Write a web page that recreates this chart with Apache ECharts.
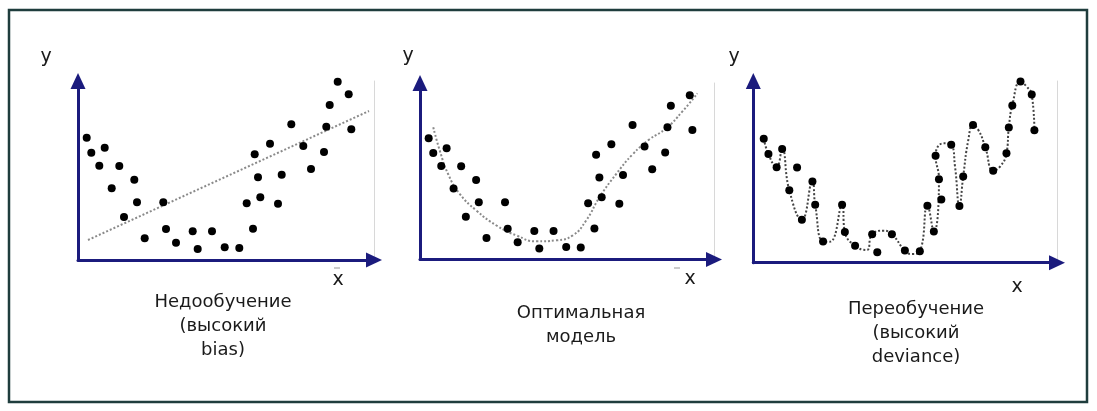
<!DOCTYPE html>
<html>
<head>
<meta charset="utf-8">
<script src="https://cdn.jsdelivr.net/npm/echarts@6/dist/echarts.min.js"></script>
<style>
html,body{margin:0;padding:0;background:#fff;}
#c{width:1097px;height:411px;}
</style>
</head>
<body>
<div id="c"></div>
<script>
// Scatter observations (shared by all three panels)
const pointsX = [8.7, 13.3, 26.7, 21.3, 41.3, 33.7, 56.3, 59, 46, 66.7, 85.3, 88, 98, 114.7, 119.7, 134, 146.7, 161.3, 175, 168.7, 176.7, 180, 182.3, 192, 203.7, 200, 213.3, 225.3, 233, 246, 248.3, 251.7, 259.7, 270.7, 273.3];
const pointsY = [122.3, 107.3, 112.3, 94.3, 94, 71.7, 80.3, 57.7, 43, 21.7, 57.7, 31, 17.3, 28.7, 11, 28.7, 12.7, 12, 31.3, 56.7, 105.7, 82.7, 62.7, 116.3, 85.3, 56.3, 135.7, 114, 91, 108, 133.3, 155, 178.3, 165.7, 130.7];

// Underfit: linear model
const underX = [10, 291];
const underY = [20, 149];

// Optimal: smooth model
const optX = [13.3, 20, 28.3, 40, 56.7, 76.7, 96.7, 116.7, 136.7, 153.3, 166.7, 180, 196.7, 213.3, 230, 246.7, 263.3, 278.3];
const optY = [133.3, 109.3, 86, 66, 49.3, 34.3, 24.3, 18.3, 19.3, 24.3, 39.3, 62.6, 86, 106, 121, 132, 149.3, 167.6];

// Overfit: wiggly model through the points
const overX = [8.7, 13.3, 21.3, 26.7, 33.7, 46, 56.3, 59, 66.7, 73.5, 85.3, 88, 98, 109.3, 114.7, 125.6, 134, 146.7, 153.3, 161.3, 168.7, 175, 180, 176.7, 184.3, 192, 195.7, 200, 203.7, 208.7, 213.3, 218.5, 225.3, 233, 239.7, 246, 248.3, 251.7, 259.7, 265.7, 270.7, 273.3];
const overY = [122.3, 107.3, 94.3, 112.3, 71.7, 43, 80.3, 57.7, 21.7, 21.4, 57.7, 31, 17.3, 13.2, 28.7, 32.2, 28.7, 12.7, 9.3, 12, 56.7, 31.3, 82.7, 105.7, 117.8, 116.3, 95, 56.3, 85.3, 121.1, 135.7, 130.9, 114, 91, 95, 108, 133.3, 155, 178.3, 173.4, 165.7, 130.7];

const panelTitles = ['Недообучение\n(высокий\nbias)', 'Оптимальная\nмодель', 'Переобучение\n(высокий\ndeviance)'];
const axisLabelY = 'y';
const axisLabelX = 'x';

const zip = (a, b) => a.map((v, i) => [v, b[i]]);
const pts = zip(pointsX, pointsY);

const NAVY = '#1b1b7d';
const FONT = 'DejaVu Sans';

const grids = [
  {left: 78, top: 81, width: 296, height: 179},
  {left: 420, top: 83, width: 294, height: 176.5},
  {left: 753.3, top: 81, width: 303.7, height: 181.7}
];
const xr = [[0, 296], [0, 295], [-1.5, 295.4]];
const yr = [[0, 179], [0, 178], [0.8, 178.9]];

const xAxis = grids.map((g, i) => ({
  type: 'value', gridIndex: i, min: xr[i][0], max: xr[i][1],
  axisLine: {show: true, onZero: false, symbol: ['none', 'triangle'], symbolSize: [15, 16], lineStyle: {color: NAVY, width: 3}},
  axisTick: {show: false}, axisLabel: {show: false}, splitLine: {show: false}
}));
const yAxis = [];
grids.forEach((g, i) => {
  yAxis.push({
    type: 'value', gridIndex: i, min: yr[i][0], max: yr[i][1],
    axisLine: {show: true, onZero: false, symbol: ['none', 'triangle'], symbolSize: [15, 16], lineStyle: {color: NAVY, width: 3}},
    axisTick: {show: false}, axisLabel: {show: false}, splitLine: {show: false}
  });
  yAxis.push({
    type: 'value', gridIndex: i, position: 'right', min: yr[i][0], max: yr[i][1],
    axisLine: {show: true, onZero: false, lineStyle: {color: '#d8d8d8', width: 1}},
    axisTick: {show: false}, axisLabel: {show: false}, splitLine: {show: false}
  });
});

const fits = [
  {x: underX, y: underY, smooth: false, color: '#8a8a8a'},
  {x: optX, y: optY, smooth: 0.5, color: '#8a8a8a'},
  {x: overX, y: overY, smooth: 0.5, color: '#444'}
];

const series = [];
fits.forEach((f, i) => {
  series.push({
    type: 'line', xAxisIndex: i, yAxisIndex: i * 2, data: zip(f.x, f.y),
    smooth: f.smooth, symbol: 'none', silent: true,
    lineStyle: {color: f.color, width: 2, type: 'dotted'}, z: 2
  });
  series.push({
    type: 'scatter', xAxisIndex: i, yAxisIndex: i * 2, data: pts,
    symbolSize: 8, itemStyle: {color: '#000', opacity: 1}, z: 3
  });
});

const txt = (x, y, text, size, extra) => Object.assign({
  type: 'text', x: x, y: y,
  style: {text: text, fill: '#1a1a1a', font: size + 'px "' + FONT + '"', align: 'center', verticalAlign: 'middle', lineHeight: 24}
}, extra || {});

const graphic = [
  {type: 'rect', shape: {x: 9, y: 10, width: 1078, height: 392}, style: {fill: 'none', stroke: '#1f3d3d', lineWidth: 2.5}},
  txt(46, 57, axisLabelY, 19), txt(408, 56, axisLabelY, 19), txt(734, 57, axisLabelY, 19),
  txt(338, 280, axisLabelX, 19), txt(690, 279, axisLabelX, 19), txt(1017, 287, axisLabelX, 19),
  {type: 'line', shape: {x1: 334, y1: 268, x2: 340, y2: 268}, style: {stroke: '#999', lineWidth: 1}},
  {type: 'line', shape: {x1: 674, y1: 268, x2: 680, y2: 268}, style: {stroke: '#999', lineWidth: 1}},
  txt(223, 326.5, panelTitles[0], 18),
  txt(581, 325.5, panelTitles[1], 18),
  txt(916, 333.5, panelTitles[2], 18)
];

const chart = echarts.init(document.getElementById('c'), null, {renderer: 'canvas'});
chart.setOption({
  animation: false,
  backgroundColor: '#fff',
  grid: grids,
  xAxis: xAxis,
  yAxis: yAxis,
  series: series,
  graphic: graphic
});
</script>
</body>
</html>
